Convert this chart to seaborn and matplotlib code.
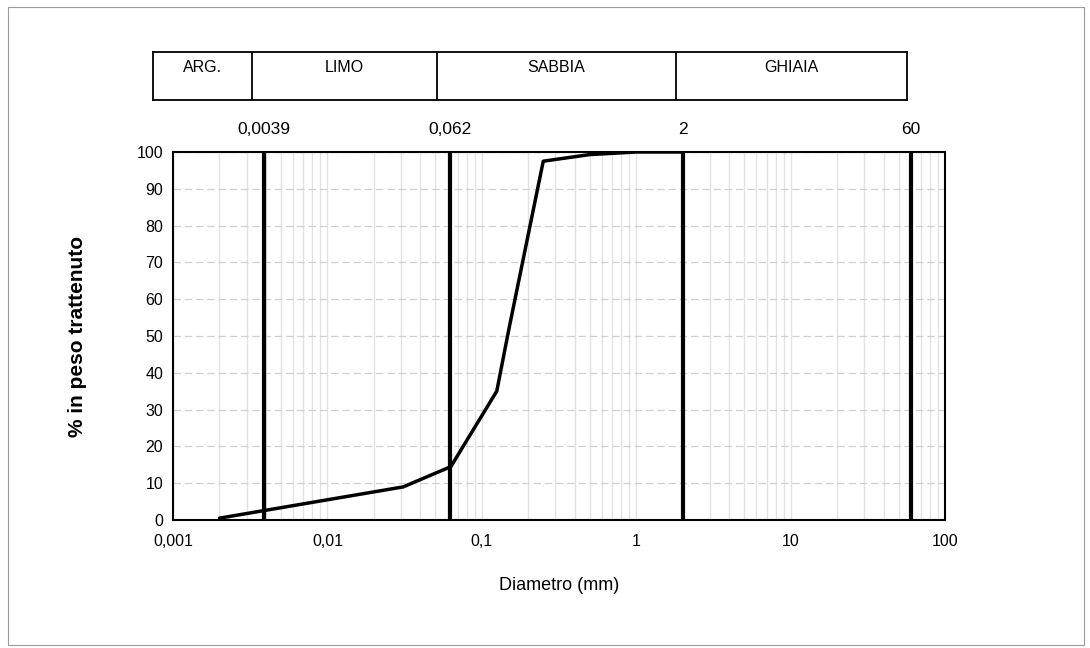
import numpy as np
import pandas as pd
import matplotlib
matplotlib.use('Agg')
import matplotlib.pyplot as plt
from matplotlib.patches import Rectangle
from matplotlib.ticker import FixedLocator, LogLocator, NullFormatter
import seaborn as sns

# curva granulometrica
diametro = [0.002, 0.031, 0.063, 0.125, 0.15, 0.25, 0.5, 1, 2]
trattenuto = [0.5, 9, 14.5, 35, 52, 97.5, 99.3, 100, 100]

# limiti delle classi
limiti = [0.0039, 0.062, 2, 60]
limiti_lab = ['0,0039', '0,062', '2', '60']
classi = ['ARG.', 'LIMO', 'SABBIA', 'GHIAIA']

xticks = [0.001, 0.01, 0.1, 1, 10, 100]
xtick_lab = ['0,001', '0,01', '0,1', '1', '10', '100']
yticks = list(range(0, 101, 10))

sns.set_style('white', {'text.color': 'black', 'axes.labelcolor': 'black',
                        'xtick.color': 'black', 'ytick.color': 'black'})
plt.rcParams['font.family'] = ['Liberation Sans', 'DejaVu Sans']

df = pd.DataFrame({'d': diametro, 'p': trattenuto})

fig = plt.figure(figsize=(10.9, 6.48), dpi=100)
ax = fig.add_axes([173/1090, 1 - 520/648, 772/1090, 368/648])
ax.set_xscale('log')
ax.set_xlim(0.001, 100)
ax.set_ylim(0, 100)

# griglia
ax.xaxis.set_minor_locator(LogLocator(base=10, subs=np.arange(2, 10)))
ax.xaxis.set_minor_formatter(NullFormatter())
ax.grid(which='minor', axis='x', color='#e2e2e2', lw=1.0)
ax.grid(which='major', axis='x', color='#e2e2e2', lw=1.0)
ax.grid(which='major', axis='y', color='#d0d0d0', lw=0.9, ls=(0, (6, 3)))

for x in limiti:
    ax.axvline(x, color='black', lw=3, zorder=3)

sns.lineplot(data=df, x='d', y='p', sort=False, color='black', lw=2.5, ax=ax, zorder=4)

ax.xaxis.set_major_locator(FixedLocator(xticks))
ax.set_xticklabels(xtick_lab, fontsize=11.5)
ax.set_yticks(yticks)
ax.set_yticklabels([str(v) for v in yticks], fontsize=11.5)
ax.tick_params(axis='both', which='both', length=0, pad=7, labelcolor='black')
ax.tick_params(axis='x', pad=10)
for s in ax.spines.values():
    s.set_color('black')
    s.set_linewidth(1.5)

ax.set_xlabel('Diametro (mm)', fontsize=13, labelpad=20, color='black')
ax.set_ylabel('% in peso trattenuto', fontsize=15, fontweight='bold', labelpad=36, color='black')

for x, lab in zip(limiti, limiti_lab):
    ax.text(x, 106, lab, ha='center', va='center', fontsize=12.5, color='black', clip_on=False)

# intestazione classi
hx = [153, 252, 437, 676, 907]
hax = fig.add_axes([153/1090, 1 - 100/648, 754/1090, 48/648])
hax.set_xlim(hx[0], hx[-1])
hax.set_ylim(0, 1)
hax.set_xticks([])
hax.set_yticks([])
for s in hax.spines.values():
    s.set_color('black')
    s.set_linewidth(1.3)
for i, nome in enumerate(classi):
    if i > 0:
        hax.axvline(hx[i], color='black', lw=1.3)
    hax.text((hx[i] + hx[i + 1]) / 2, 0.68, nome, ha='center', va='center',
             fontsize=11.5, color='black')

# cornice
fig.patches.append(Rectangle((8/1090, 3/648), 1076/1090, 638/648, transform=fig.transFigure,
                             fill=False, edgecolor='#9a9a9a', lw=0.8))

fig.savefig('out.png', dpi=100)
